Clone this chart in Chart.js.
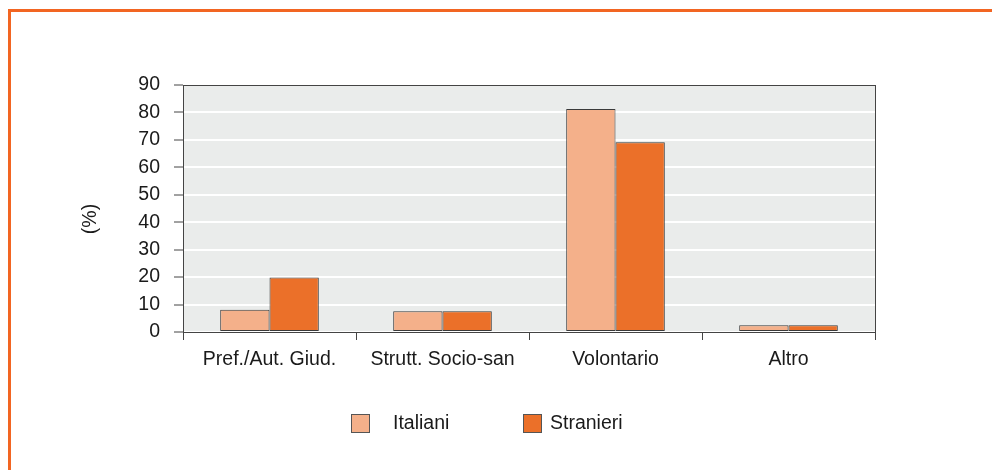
<!DOCTYPE html>
<html>
<head>
<meta charset="utf-8">
<script src="https://cdn.jsdelivr.net/npm/chart.js@4.4.0/dist/chart.umd.min.js"></script>
<style>
  html, body { margin: 0; padding: 0; background: #ffffff; overflow: hidden; }
  #wrap { position: relative; width: 992px; height: 470px; overflow: hidden; }
  #frame { position: absolute; left: 8px; top: 9px; width: 2000px; height: 2000px;
           border-left: 3px solid #f26522; border-top: 3px solid #f26522; }
  canvas { position: absolute; left: 0; top: 0; }
</style>
</head>
<body>
<div id="wrap">
  <div id="frame"></div>
  <canvas id="c" width="992" height="470"></canvas>
</div>
<script>
const categories = ["Pref./Aut. Giud.", "Strutt. Socio-san", "Volontario", "Altro"];
const italiani = [8.1, 7.6, 81.3, 2.5];
const stranieri = [19.9, 7.6, 69.1, 2.5];
const yTicks = [0, 10, 20, 30, 40, 50, 60, 70, 80, 90];
const seriesNames = ["Italiani", "Stranieri"];
const yTitle = "(%)";

const FONT = "'Liberation Sans', Arial, Helvetica, sans-serif";
const FS = 19.5;
const TEXT = "#1a1a1a";
const AXIS = "#444444";

const plotBg = {
  id: 'plotBg',
  beforeDraw(chart) {
    const { ctx, chartArea: a } = chart;
    ctx.save();
    ctx.fillStyle = '#eaeceb';
    ctx.fillRect(a.left, a.top, a.right - a.left, a.bottom - a.top);
    ctx.restore();
  },
  afterDatasetsDraw(chart) {
    const { ctx, chartArea: a } = chart;
    ctx.save();
    ctx.strokeStyle = AXIS;
    ctx.lineWidth = 1;
    ctx.strokeRect(Math.round(a.left) + 0.5, Math.round(a.top) + 0.5,
                   Math.round(a.right - a.left), Math.round(a.bottom - a.top));
    ctx.restore();
  }
};

const customText = {
  id: 'customText',
  afterDraw(chart) {
    const { ctx } = chart;
    const boxX = [351, 523];
    const textX = [393, 550];
    const boxY = 414, box = 19, cy = 424;
    ctx.save();
    ctx.font = FS + "px " + FONT;
    chart.data.datasets.forEach((ds, i) => {
      ctx.fillStyle = ds.backgroundColor;
      ctx.fillRect(boxX[i], boxY, box, box);
      ctx.strokeStyle = '#555';
      ctx.lineWidth = 1;
      ctx.strokeRect(boxX[i] + 0.5, boxY + 0.5, box - 1, box - 1);
      ctx.fillStyle = TEXT;
      ctx.textBaseline = 'middle';
      ctx.textAlign = 'left';
      ctx.fillText(ds.label, textX[i], cy);
    });
    // y-axis title
    ctx.translate(91, 219);
    ctx.rotate(-Math.PI / 2);
    ctx.textAlign = 'center';
    ctx.textBaseline = 'middle';
    ctx.fillStyle = TEXT;
    ctx.fillText(yTitle, 0, 0);
    ctx.restore();
  }
};

new Chart(document.getElementById('c'), {
  type: 'bar',
  data: {
    labels: categories,
    datasets: [
      { label: seriesNames[0], data: italiani, backgroundColor: '#f4b08a',
        borderColor: '#3a3a3a', borderWidth: 1, borderSkipped: false },
      { label: seriesNames[1], data: stranieri, backgroundColor: '#eb7029',
        borderColor: '#3a3a3a', borderWidth: 1, borderSkipped: false }
    ]
  },
  options: {
    responsive: false,
    animation: false,
    devicePixelRatio: 1,
    layout: { padding: { left: 80, right: 117, top: 85, bottom: 98 } },
    datasets: { bar: { categoryPercentage: 0.57, barPercentage: 1.0 } },
    plugins: {
      legend: { display: false },
      tooltip: { enabled: false },
      title: { display: false }
    },
    scales: {
      x: {
        afterFit(s) { s.height = 40; },
        grid: { display: true, drawOnChartArea: false, drawTicks: true, tickLength: 8,
                tickColor: AXIS, offset: true },
        border: { display: true, color: AXIS, width: 1 },
        ticks: { color: TEXT, font: { family: FONT, size: FS }, padding: 8, maxRotation: 0 }
      },
      y: {
        min: 0, max: 90,
        afterFit(s) { s.width = 103; },
        afterBuildTicks(s) { s.ticks = yTicks.map(v => ({ value: v })); },
        grid: { color: '#ffffff', lineWidth: 2, tickColor: AXIS, tickWidth: 1, tickLength: 9 },
        border: { display: true, color: AXIS, width: 1 },
        ticks: { color: TEXT, font: { family: FONT, size: FS }, padding: 14 },
        title: { display: false }
      }
    }
  },
  plugins: [plotBg, customText]
});
</script>
</body>
</html>
